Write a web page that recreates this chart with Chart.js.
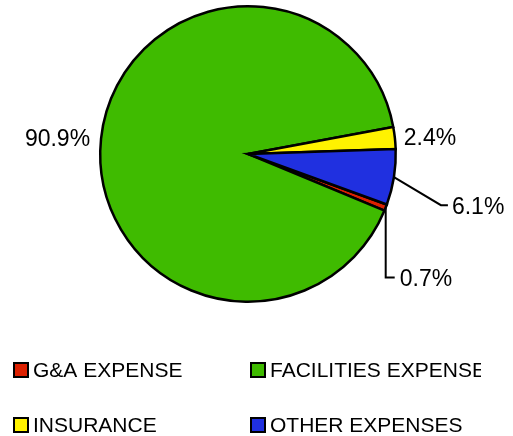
<!DOCTYPE html>
<html>
<head>
<meta charset="utf-8">
<script src="https://cdn.jsdelivr.net/npm/chart.js@4/dist/chart.umd.min.js"></script>
<style>
  body { margin: 0; background: #fff; }
  canvas { display: block; }
</style>
</head>
<body>
<canvas id="pieChart" width="513" height="436"></canvas>
<script>
// Chart data
const categories = ['G&A EXPENSE', 'FACILITIES EXPENSE', 'INSURANCE', 'OTHER EXPENSES'];
const shares = [0.7, 90.9, 2.4, 6.1];
const sliceColors = ['#dc2000', '#3fbb00', '#fff200', '#2030e0'];

const FONT = '"Liberation Sans", Arial, sans-serif';

// how each percentage label sits next to its slice
const labelStyle = [
    { kind: 'leader', elbow: [0, 70], end: [9, 70], gap: 5 },   // G&A - drops straight down
    { kind: 'plain', align: 'right', pad: 11, dy: 2 },          // facilities
    { kind: 'plain', align: 'left', pad: 9, dy: 2 },            // insurance
    { kind: 'leader', elbow: [47, 28], end: [54, 28], gap: 4 }  // other
];

// Percentage labels + leader lines
const pieLabels = {
    id: 'pieLabels',
    afterDatasetsDraw(chart) {
        const ctx = chart.ctx;
        const arcs = chart.getDatasetMeta(0).data;
        ctx.save();
        ctx.font = '23px ' + FONT;
        ctx.fillStyle = '#000';
        ctx.strokeStyle = '#000';
        ctx.lineWidth = 2;
        ctx.textBaseline = 'middle';

        arcs.forEach((arc, i) => {
            const text = shares[i].toFixed(1) + '%';
            const mid = (arc.startAngle + arc.endAngle) / 2;
            const cfg = labelStyle[i];
            if (cfg.kind === 'plain') {
                const r = arc.outerRadius + cfg.pad;
                ctx.textAlign = cfg.align;
                ctx.fillText(text, arc.x + Math.cos(mid) * r, arc.y + Math.sin(mid) * r + cfg.dy);
            } else {
                const sx = arc.x + Math.cos(mid) * arc.outerRadius;
                const sy = arc.y + Math.sin(mid) * arc.outerRadius;
                ctx.beginPath();
                ctx.moveTo(sx, sy);
                ctx.lineTo(sx + cfg.elbow[0], sy + cfg.elbow[1]);
                ctx.lineTo(sx + cfg.end[0], sy + cfg.end[1]);
                ctx.stroke();
                ctx.textAlign = 'left';
                ctx.fillText(text, sx + cfg.end[0] + cfg.gap, sy + cfg.end[1] + 2);
            }
        });
        ctx.restore();
    }
};

// Legend in two columns, clipped on the right like the original
const gridLegend = {
    id: 'gridLegend',
    afterDraw(chart) {
        const ctx = chart.ctx;
        const colX = [14, 251];
        const rowY = [370, 425];
        ctx.save();
        ctx.font = '21px ' + FONT;
        ctx.textBaseline = 'middle';
        ctx.textAlign = 'left';
        categories.forEach((name, i) => {
            const x = colX[i % 2];
            const y = rowY[Math.floor(i / 2)];
            ctx.fillStyle = sliceColors[i];
            ctx.fillRect(x, y - 7, 14, 14);
            ctx.strokeStyle = '#000';
            ctx.lineWidth = 2;
            ctx.strokeRect(x, y - 7, 14, 14);
            ctx.save();
            ctx.beginPath();
            ctx.rect(0, 0, 481, chart.height);
            ctx.clip();
            ctx.fillStyle = '#000';
            ctx.fillText(name, x + 19, y + 1);
            ctx.restore();
        });
        ctx.restore();
    }
};

new Chart(document.getElementById('pieChart'), {
    type: 'pie',
    data: {
        labels: categories,
        datasets: [{
            data: shares,
            backgroundColor: sliceColors,
            borderColor: '#000',
            borderWidth: 2.5,
            borderJoinStyle: 'miter'
        }]
    },
    options: {
        responsive: false,
        animation: false,
        rotation: 110,
        layout: {
            padding: { left: 99, right: 116, top: 5, bottom: 133 }
        },
        plugins: {
            legend: { display: false },
            tooltip: { enabled: false }
        }
    },
    plugins: [pieLabels, gridLegend]
});
</script>
</body>
</html>
